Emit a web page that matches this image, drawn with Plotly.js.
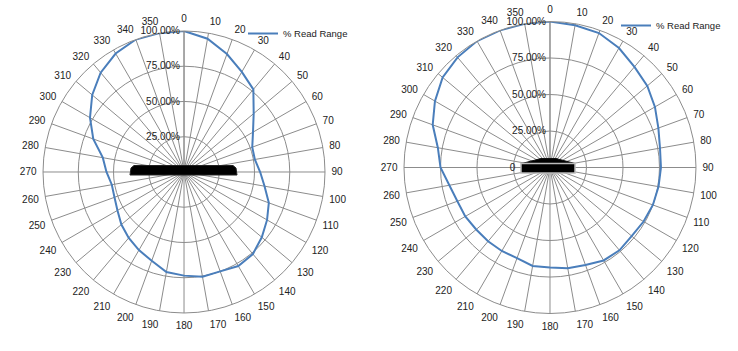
<!DOCTYPE html>
<html>
<head>
<meta charset="utf-8">
<script src="https://cdn.plot.ly/plotly-3.0.1.min.js"></script>
<style>html,body{margin:0;padding:0;background:#fff;}#chart{width:738px;height:351px;}</style>
</head>
<body>
<div id="chart"></div>
<script>
// Angles (degrees) and % read range (fraction) for each orientation
var angles = [0,10,20,30,40,50,60,70,80,90,100,110,120,130,140,150,160,170,180,190,200,210,220,230,240,250,260,270,280,290,300,310,320,330,340,350];
var readRangeLeft = [1.00,0.96,0.89,0.82,0.765,0.645,0.565,0.515,0.51,0.54,0.58,0.64,0.68,0.72,0.76,0.77,0.75,0.755,0.735,0.72,0.67,0.64,0.61,0.58,0.545,0.525,0.52,0.55,0.585,0.685,0.77,0.85,0.92,0.97,1.00,1.00];
var readRangeRight = [1.00,0.99,0.98,0.945,0.90,0.87,0.83,0.79,0.765,0.76,0.755,0.75,0.74,0.73,0.74,0.735,0.71,0.70,0.685,0.685,0.66,0.66,0.66,0.66,0.67,0.675,0.70,0.75,0.78,0.855,0.91,0.96,0.985,1.00,1.00,1.00];
var radialTickVals = [0,0.25,0.5,0.75,1];
var radialTickText = ['0','25.00%','50.00%','75.00%','100.00%'];
var seriesName = '% Read Range';

function closeLoop(a){ return a.concat([a[0]]); }
var thetaClosed = angles.concat([360]);
var nb = '\u00a0';
var radialTickTextPadded = radialTickText.map(function(t){ return t === '0' ? t + new Array(12).join(nb) : t; });

var lineColor = '#4A7EBB';
var gridColor = '#8C8C8C';
var fontFam = 'Liberation Sans, Arial, sans-serif';

var traces = [
  {type:'scatterpolar', mode:'lines', r:closeLoop(readRangeLeft), theta:thetaClosed, subplot:'polar', name:seriesName, legend:'legend', showlegend:true,
   line:{color:lineColor, width:2}},
  {type:'scatterpolar', mode:'lines', r:closeLoop(readRangeRight), theta:thetaClosed, subplot:'polar2', name:seriesName, legend:'legend2', showlegend:true,
   line:{color:lineColor, width:2}}
];

function polarCfg(xd, yd){
  return {
    domain:{x:xd, y:yd},
    bgcolor:'#fff',
    angularaxis:{rotation:90, direction:'clockwise', tickmode:'array', tickvals:angles, ticktext:angles.map(String),
      showgrid:true, gridcolor:gridColor, gridwidth:1, showline:true, linecolor:gridColor, linewidth:1,
      ticks:'outside', ticklen:4, tickcolor:'rgba(0,0,0,0)', tickfont:{family:fontFam, size:10, color:'#222'}},
    radialaxis:{range:[0,1], angle:90, side:'counterclockwise', tickmode:'array', tickvals:radialTickVals, ticktext:radialTickTextPadded,
      showgrid:true, gridcolor:gridColor, gridwidth:1, showline:true, linecolor:gridColor, linewidth:1, ticks:'',
      tickangle:90, tickfont:{family:fontFam, size:10, color:'#222'}}
  };
}

function px(x){ return x/738; }
function py(y){ return 1 - y/351; }
function pathFrom(pts){
  return 'M' + pts.map(function(p){ return px(p[0]).toFixed(5)+','+py(p[1]).toFixed(5); }).join(' L') + ' Z';
}

var layout = {
  width:738, height:351,
  margin:{l:0,r:0,t:0,b:0},
  paper_bgcolor:'#fff',
  showlegend:true,
  font:{family:fontFam, size:10, color:'#222'},
  polar: polarCfg([0.0583,0.4404],[0.1083,0.9117]),
  polar2: polarCfg([0.5474,0.9431],[0.1068,0.9387]),
  legend:{x:px(243), y:py(19), xanchor:'left', yanchor:'top', bgcolor:'rgba(0,0,0,0)', font:{size:9.5, color:'#222'}, itemwidth:30},
  legend2:{x:px(616), y:py(11), xanchor:'left', yanchor:'top', bgcolor:'rgba(0,0,0,0)', font:{size:9.5, color:'#222'}, itemwidth:30},
  shapes:[
    // antenna pictograms (decoration over the plots)
    {type:'path', xref:'paper', yref:'paper', fillcolor:'#000', line:{color:'#222', width:1},
     path: pathFrom([[131,168],[134,165.5],[233,165.5],[236,168],[237,175],[130,175]])},
    {type:'path', xref:'paper', yref:'paper', fillcolor:'#000', line:{color:'#111', width:1},
     path: pathFrom([[541,158.5],[556,158.5],[575,163.5],[522,163.5]])},
    {type:'rect', xref:'paper', yref:'paper', fillcolor:'#000', line:{color:'#bbb', width:1.5},
     x0:px(521), x1:px(575), y0:py(173), y1:py(163.5)}
  ]
};

Plotly.newPlot('chart', traces, layout, {staticPlot:true});
</script>
</body>
</html>
